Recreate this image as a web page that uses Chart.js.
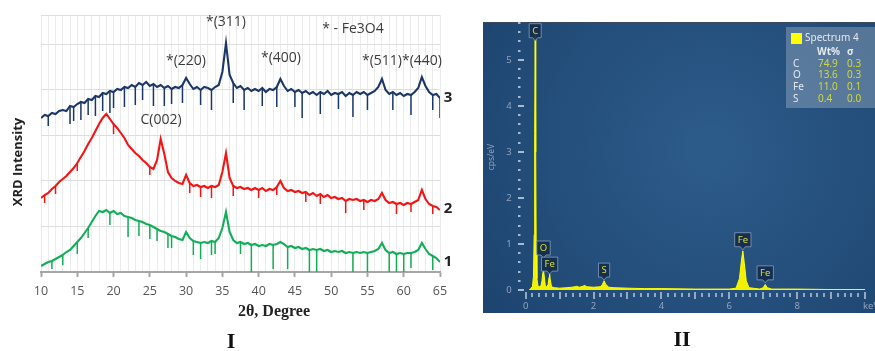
<!DOCTYPE html>
<html>
<head>
<meta charset="utf-8">
<script src="https://cdn.jsdelivr.net/npm/chart.js@4.4.0/dist/chart.umd.min.js"></script>
<style>
  html, body { margin: 0; padding: 0; background: #fff; overflow: hidden; width: 875px; height: 351px; }
  #xrd { position: absolute; left: 0; top: 0; }
  #eds { position: absolute; left: 480px; top: 0; }
  .panel-label { position: absolute; transform: translate(-50%, -50%); font-family: "Liberation Serif", serif;
                 font-weight: bold; font-size: 22px; line-height: 1; color: #111; }
</style>
</head>
<body>
<canvas id="xrd" width="470" height="351"></canvas>
<canvas id="eds" width="396" height="351"></canvas>
<div class="panel-label" style="left:231px;top:341px">I</div>
<div class="panel-label" style="left:682px;top:339px">II</div>

<script>
// ---- Panel I : XRD patterns (2theta grid, 0.5 deg) ----
const theta = [
  10, 10.5, 11, 11.5, 12, 12.5, 13, 13.5, 14, 14.5,
  15, 15.5, 16, 16.5, 17, 17.5, 18, 18.5, 19, 19.5,
  20, 20.5, 21, 21.5, 22, 22.5, 23, 23.5, 24, 24.5,
  25, 25.5, 26, 26.5, 27, 27.5, 28, 28.5, 29, 29.5,
  30, 30.5, 31, 31.5, 32, 32.5, 33, 33.5, 34, 34.5,
  35, 35.5, 36, 36.5, 37, 37.5, 38, 38.5, 39, 39.5,
  40, 40.5, 41, 41.5, 42, 42.5, 43, 43.5, 44, 44.5,
  45, 45.5, 46, 46.5, 47, 47.5, 48, 48.5, 49, 49.5,
  50, 50.5, 51, 51.5, 52, 52.5, 53, 53.5, 54, 54.5,
  55, 55.5, 56, 56.5, 57, 57.5, 58, 58.5, 59, 59.5,
  60, 60.5, 61, 61.5, 62, 62.5, 63, 63.5, 64, 64.5,
  65
];

// sample 3 (navy)
const xrd3 = [
  154, 157, 156, 159, 158, 161, 162, 161, 166, 165,
  168, 170, 169, 173, 172, 176, 175, 179, 178, 181,
  180, 183, 182, 185, 184, 187, 185, 189, 187, 190,
  186, 188, 185, 187, 184, 186, 183, 185, 184, 187,
  194, 188, 183, 185, 182, 185, 184, 182, 185, 187,
  200, 229, 197, 189, 184, 186, 182, 184, 181, 183,
  181, 184, 180, 183, 182, 185, 193, 186, 181, 183,
  180, 182, 179, 181, 178, 180, 177, 180, 178, 181,
  177, 179, 178, 180, 176, 179, 177, 180, 178, 180,
  177, 179, 181, 185, 193, 182, 178, 180, 177, 179,
  176, 178, 177, 180, 184, 195, 186, 180, 177, 178,
  174
];

// sample 2 (red)
const xrd2 = [
  74, 77, 79, 83, 86, 90, 93, 96, 100, 104,
  109, 115, 121, 128, 134, 141, 148, 154, 158, 153,
  148, 144, 139, 134, 127, 123, 119, 116, 112, 109,
  105, 103, 112, 133, 118, 100, 94, 91, 89, 88,
  97, 89, 86, 87, 85, 86, 84, 86, 85, 87,
  100, 119, 94, 86, 84, 85, 83, 84, 82, 84,
  82, 84, 81, 83, 82, 85, 91, 84, 81, 82,
  80, 81, 79, 80, 77, 79, 76, 78, 75, 77,
  74, 75, 73, 74, 71, 73, 72, 73, 71, 72,
  70, 72, 71, 73, 79, 72, 69, 70, 68, 69,
  67, 69, 68, 70, 72, 82, 73, 68, 66, 65,
  62
];

// sample 1 (green)
const xrd1 = [
  6, 8, 10, 11, 13, 15, 17, 20, 22, 26,
  30, 34, 39, 44, 50, 56, 61, 60, 62, 59,
  61, 58, 59, 56, 55, 54, 52, 51, 50, 48,
  47, 45, 43, 41, 40, 38, 36, 35, 33, 32,
  40, 34, 31, 30, 29, 30, 29, 31, 30, 34,
  44, 60, 40, 32, 29, 30, 28, 29, 27, 28,
  26, 27, 26, 28, 27, 28, 30, 28, 25, 26,
  24, 25, 23, 24, 22, 23, 22, 23, 21, 22,
  20, 21, 20, 21, 19, 20, 19, 20, 19, 20,
  19, 20, 21, 23, 29, 22, 19, 20, 18, 19,
  18, 19, 19, 20, 22, 29, 23, 18, 16, 14,
  10
];

// downward detector spikes: [2theta, depth]
const spikes3 = [[11,10],[14,18],[14.5,14],[15.5,18],[16.5,16],[17.5,20],[18.5,18],[19.5,22],[20,16],[21.5,20],
  [23,18],[24,15],[25.5,22],[27,18],[28,15],[29.5,18],[32,15],[33.5,20],[36.5,20],[38,20],[40.5,18],[42.5,20],
  [45,15],[46,25],[48.5,22],[51,15],[53,22],[55,15],[58.5,18],[61,20],[64,15],[65,20]];
const spikes2 = [[10.5,8],[12,8],[15,8],[20,10],[25,8],[30.5,10],[32,10],[33.5,12],[36.5,10],[40,8],[42.5,8],
  [46.5,10],[48.5,10],[52,12],[54.5,10],[59,10],[61,8],[64,8]];
const spikes1 = [[11.5,8],[13,10],[15,12],[16.5,10],[19.5,12],[22,20],[23.5,15],[25,14],[26,12],[27.5,14],[28,12],
  [31,14],[32,16],[33.5,14],[34,12],[37.5,12],[39,28],[42,24],[44,22],[47,22],[48,22],[53,20],[55,19],[58,20],
  [59,19],[60,18],[61,15],[64,14]];

const xTicks = [10, 15, 20, 25, 30, 35, 40, 45, 50, 55, 60, 65];

// ---- Panel II : EDS spectrum ----
const energy = [0.10,0.15,0.20,0.23,0.25,0.265,0.28,0.295,0.31,0.33,
  0.36,0.40,0.45,0.48,0.50,0.525,0.55,0.58,0.62,0.66,
  0.69,0.705,0.72,0.76,0.85,1.0,1.2,1.35,1.45,1.5,
  1.58,1.68,1.74,1.8,2.0,2.2,2.26,2.31,2.36,2.45,
  2.6,3.0,3.5,4.0,5.0,6.0,6.2,6.3,6.36,6.40,
  6.44,6.5,6.58,6.9,7.0,7.06,7.12,7.25,8.0,9.0,
  10.0];
const cps = [0,0.03,0.08,0.3,1.2,3.4,5.62,3.0,0.8,0.25,
  0.1,0.07,0.09,0.2,0.35,0.43,0.28,0.08,0.07,0.12,
  0.28,0.35,0.25,0.07,0.05,0.04,0.05,0.06,0.07,0.08,
  0.06,0.08,0.1,0.07,0.06,0.07,0.12,0.2,0.12,0.06,
  0.05,0.04,0.03,0.03,0.02,0.02,0.04,0.25,0.65,0.85,
  0.6,0.2,0.05,0.02,0.05,0.12,0.05,0.02,0.02,0.01,
  0.01];

// peak tags: element, line energy (keV), tag level (cps/eV)
const tagElements = ['C', 'O', 'Fe', 'S', 'Fe', 'Fe'];
const tagEnergy   = [0.28, 0.525, 0.705, 2.31, 6.40, 7.06];
const tagLevel    = [5.48, 0.76, 0.41, 0.28, 0.94, 0.22];

// quantification table
const quantElements = ['C', 'O', 'Fe', 'S'];
const quantWt       = ['74.9', '13.6', '11.0', '0.4'];
const quantSigma    = ['0.3', '0.3', '0.1', '0.0'];

// ---------------------------------------------------------------
const toPoints = vals => theta.map((t, i) => ({ x: t, y: vals[i] }));

function spikePoints(vals, spikes) {
  const pts = [];
  spikes.forEach(([t, d]) => {
    const top = vals[theta.indexOf(t)];
    pts.push({ x: t, y: top }, { x: t, y: Math.max(0, top - d) }, { x: t, y: null });
  });
  return pts;
}

const navy = '#1b3767', red = '#f41414', green = '#12ad57';

const xrdText = {
  id: 'xrdText',
  afterDraw(chart) {
    const c = chart.ctx;
    c.save();
    c.textAlign = 'center';
    c.textBaseline = 'middle';
    c.fillStyle = '#3c3c3c';
    c.font = '14px "Open Sans"';
    [['*(311)', 226, 22], ['* - Fe3O4', 353, 29], ['*(220)', 186, 61], ['*(400)', 281, 58],
     ['*(511)*(440)', 402, 61], ['C(002)', 161, 120]].forEach(([t, x, y]) => c.fillText(t, x, y));

    c.fillStyle = '#222';
    c.font = 'bold 15px "Open Sans"';
    c.fillText('3', 448, 98);
    c.fillText('2', 448, 209);
    c.fillText('1', 448, 262);

    c.font = 'bold 16px "Liberation Serif"';
    c.fillText('2θ, Degree', 274, 312);

    c.translate(18, 162);
    c.rotate(-Math.PI / 2);
    c.font = 'bold 13px "Open Sans"';
    c.fillText('XRD Intensity', 0, 0);
    c.restore();
  }
};

const lineDs = (vals, color) => ({ data: toPoints(vals), borderColor: color, borderWidth: 2.1, pointRadius: 0, tension: 0 });
const spikeDs = (vals, sp, color) => ({ data: spikePoints(vals, sp), borderColor: color, borderWidth: 1.5, pointRadius: 0, spanGaps: false });

new Chart(document.getElementById('xrd'), {
  type: 'line',
  data: {
    datasets: [
      lineDs(xrd1, green), spikeDs(xrd1, spikes1, green),
      lineDs(xrd2, red), spikeDs(xrd2, spikes2, red),
      lineDs(xrd3, navy), spikeDs(xrd3, spikes3, navy)
    ]
  },
  options: {
    responsive: false,
    animation: false,
    devicePixelRatio: 1,
    layout: { padding: { top: 15, right: 30, left: 0, bottom: 0 } },
    plugins: { legend: { display: false }, tooltip: { enabled: false } },
    scales: {
      x: {
        type: 'linear', min: 10, max: 65,
        ticks: {
          stepSize: 1, autoSkip: false, maxRotation: 0, padding: 7,
          color: '#555', font: { family: 'Open Sans', size: 12.5 },
          callback: v => xTicks.includes(v) ? v : ''
        },
        grid: {
          color: '#ebebeb', tickLength: 5, tickWidth: 2,
          tickColor: c => (c.tick && xTicks.includes(c.tick.value)) ? '#a6a6a6' : 'rgba(0,0,0,0)'
        },
        border: { color: '#a6a6a6', width: 2 },
        afterFit: s => { s.height = 79; }
      },
      y: {
        min: 0, max: 257,
        ticks: { display: false },
        grid: { color: '#dedede', drawTicks: false },
        border: { display: false },
        afterBuildTicks: s => { s.ticks = [0, 45.5, 91, 136.5, 182, 227.5, 257].map(v => ({ value: v })); },
        afterFit: s => { s.width = 41; }
      }
    }
  },
  plugins: [xrdText]
});

// ---------------------------------------------------------------
const edsDecor = {
  id: 'edsDecor',
  beforeDraw(chart) {
    const c = chart.ctx;
    c.save();
    const g = c.createRadialGradient(230, 150, 20, 230, 150, 300);
    g.addColorStop(0, '#2c5a89');
    g.addColorStop(1, '#1c426d');
    c.fillStyle = g;
    c.fillRect(3, 23, 393, 290);
    c.fillStyle = '#3b4a5a';
    c.fillRect(3, 22, 393, 1);
    c.restore();
  },
  afterDatasetsDraw(chart) {
    const c = chart.ctx, xs = chart.scales.x, ys = chart.scales.y;
    c.save();
    // axis tick marks
    c.fillStyle = '#93a8c2';
    for (let k = 0; k <= 50; k++) {
      const px = Math.round(xs.getPixelForValue(k / 5));
      const major = k % 5 === 0;
      c.fillRect(px - 1, major ? 292 : 293, 2, major ? 7 : 4);
    }
    c.fillStyle = '#a9bad0';
    for (let k = 0; k <= 29; k++) {
      const py = Math.round(ys.getPixelForValue(k / 5));
      const major = k % 5 === 0;
      c.fillRect(38, py - 1, major ? 6 : 2.5, 2);
    }
    // keV unit
    c.fillStyle = '#8ea3bd';
    c.font = '9.5px "Noto Sans"';
    c.textAlign = 'left';
    c.textBaseline = 'middle';
    c.fillText('keV', 383, 306);
    // y title
    c.save();
    c.translate(11.5, 157);
    c.rotate(-Math.PI / 2);
    c.textAlign = 'center';
    c.font = '8.5px "Noto Sans"';
    c.fillText('cps/eV', 0, 0);
    c.restore();

    // peak tags
    c.font = '9.5px "Noto Sans"';
    c.textAlign = 'center';
    tagElements.forEach((el, i) => {
      const x = xs.getPixelForValue(tagEnergy[i]);
      const yb = ys.getPixelForValue(tagLevel[i]);
      const w = c.measureText(el).width + 6, h = 14;
      c.beginPath();
      c.moveTo(x - w / 2, yb - h);
      c.lineTo(x + w / 2, yb - h);
      c.lineTo(x + w / 2, yb);
      c.lineTo(x + 2.5, yb);
      c.lineTo(x, yb + 3);
      c.lineTo(x - 2.5, yb);
      c.lineTo(x - w / 2, yb);
      c.closePath();
      c.fillStyle = 'rgba(21,45,74,0.92)';
      c.fill();
      c.strokeStyle = 'rgba(140,165,195,0.75)';
      c.lineWidth = 1;
      c.stroke();
      c.fillStyle = '#d8df3c';
      c.fillText(el, x, yb - h / 2 + 0.5);
    });

    // quantification box
    c.fillStyle = 'rgba(255,255,255,0.24)';
    c.fillRect(306, 27, 90, 81);
    c.fillStyle = '#ffff00';
    c.fillRect(311, 33, 11, 11);
    c.textAlign = 'left';
    c.fillStyle = '#e4e9f0';
    c.font = '10px "Noto Sans"';
    c.fillText('Spectrum 4', 325, 38);
    c.font = 'bold 10px "Noto Sans"';
    c.fillText('Wt%', 337, 52);
    c.fillText('σ', 367, 52);
    c.font = '10px "Noto Sans"';
    quantElements.forEach((el, i) => {
      const y = 64 + i * 11.6;
      c.fillStyle = '#e4e9f0';
      c.fillText(el, 313, y);
      c.fillStyle = '#cfd83e';
      c.fillText(quantWt[i], 338, y);
      c.fillText(quantSigma[i], 367, y);
    });
    c.restore();
  }
};

new Chart(document.getElementById('eds'), {
  type: 'line',
  data: {
    datasets: [{
      data: energy.map((e, i) => ({ x: e, y: cps[i] })),
      borderColor: '#ffff00', backgroundColor: '#f2f200',
      borderWidth: 1, pointRadius: 0, tension: 0, fill: 'origin'
    }]
  },
  options: {
    responsive: false,
    animation: false,
    devicePixelRatio: 1,
    layout: { padding: { top: 23, right: 0, left: 0, bottom: 0 } },
    plugins: { legend: { display: false }, tooltip: { enabled: false } },
    scales: {
      x: {
        type: 'linear', min: 0, max: 10,
        ticks: {
          stepSize: 2, autoSkip: false, maxRotation: 0, padding: 11,
          color: '#8ea3bd', font: { family: 'Noto Sans', size: 9.5 },
          callback: v => v < 10 ? v : ''
        },
        grid: { display: false, drawTicks: false },
        border: { display: false },
        afterFit: s => { s.height = 61; }
      },
      y: {
        min: 0, max: 5.8,
        ticks: {
          stepSize: 1, padding: 14, color: '#8ea3bd',
          font: { family: 'Noto Sans', size: 9.5 },
          callback: v => Number.isInteger(v) ? v : ''
        },
        grid: { display: false, drawTicks: false },
        border: { display: false },
        afterFit: s => { s.width = 45.7; }
      }
    }
  },
  plugins: [edsDecor]
});
</script>
</body>
</html>
